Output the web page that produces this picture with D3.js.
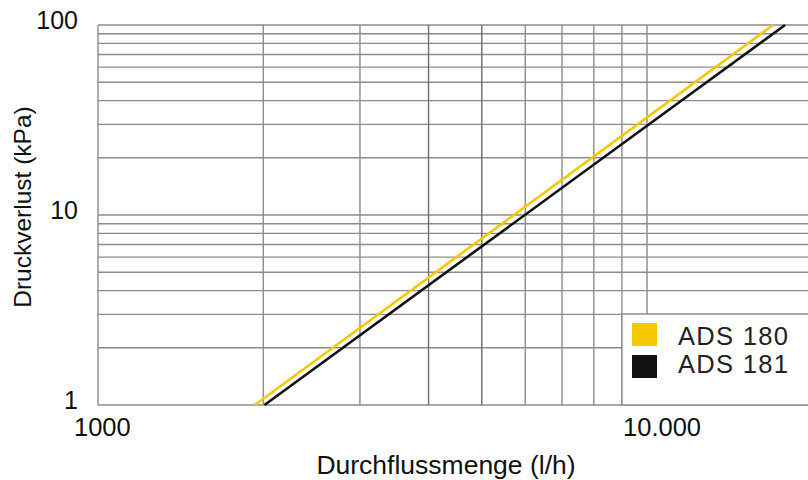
<!DOCTYPE html>
<html>
<head>
<meta charset="utf-8">
<script src="https://cdn.jsdelivr.net/npm/d3@7"></script>
<style>
  body { margin: 0; background: #fff; }
  text { font-family: "Liberation Sans", Arial, sans-serif; fill: #111; }
</style>
</head>
<body>
<div id="chart"></div>
<script>
// grid values (log scales)
const xGrid = [1000, 2000, 3000, 4000, 5000, 6000, 7000, 8000, 9000, 10000];
const yGrid = [1, 2, 3, 4, 5, 6, 7, 8, 9, 10, 20, 30, 40, 50, 60, 70, 80, 90, 100];
const xTickValues = [1000, 10000];
const xTickLabels = ["1000", "10.000"];
const yTickValues = [1, 10, 100];
const yTickLabels = ["1", "10", "100"];

// series: flow (l/h) vs pressure loss (kPa)
const seriesNames = ["ADS 180", "ADS 181"];
const seriesColors = ["#f5c800", "#111111"];
const ads180 = [{ q: 1930, dp: 1 }, { q: 16960, dp: 100 }];
const ads181 = [{ q: 2010, dp: 1 }, { q: 17840, dp: 100 }];

const width = 808;
const height = 480;
const mLeft = 98, mTop = 25, mBottom = 405, mRight = 808;

const x = d3.scaleLog().domain([1000, 19640]).range([mLeft, mRight]);
const y = d3.scaleLog().domain([1, 100]).range([mBottom, mTop]);

const svg = d3.select("#chart").append("svg")
    .attr("width", width)
    .attr("height", height);

// horizontal grid
svg.append("g")
    .selectAll("line")
    .data(yGrid)
    .enter()
    .append("line")
    .attr("x1", mLeft)
    .attr("x2", mRight)
    .attr("y1", d => y(d))
    .attr("y2", d => y(d))
    .attr("stroke", "#8c8c8c")
    .attr("stroke-width", 1.4);

// vertical grid
svg.append("g")
    .selectAll("line")
    .data(xGrid)
    .enter()
    .append("line")
    .attr("x1", d => x(d))
    .attr("x2", d => x(d))
    .attr("y1", mTop)
    .attr("y2", mBottom)
    .attr("stroke", d => (d === 4000 || d === 5000) ? "#6e6e6e" : "#8c8c8c")
    .attr("stroke-width", 1.4);

// tick labels
svg.append("g")
    .selectAll("text")
    .data(yTickValues)
    .enter()
    .append("text")
    .attr("x", 78)
    .attr("y", d => y(d) - 5)
    .attr("dy", "0.35em")
    .attr("text-anchor", "end")
    .style("font-size", "25px")
    .text((d, i) => yTickLabels[i]);

svg.append("g")
    .selectAll("text")
    .data(xTickValues)
    .enter()
    .append("text")
    .attr("x", d => x(d) - 24)
    .attr("y", 436)
    .attr("text-anchor", "start")
    .style("font-size", "25.5px")
    .text((d, i) => xTickLabels[i]);

// axis titles
svg.append("text")
    .attr("x", 446)
    .attr("y", 474)
    .attr("text-anchor", "middle")
    .style("font-size", "26.5px")
    .text("Durchflussmenge (l/h)");

svg.append("text")
    .attr("transform", "translate(31, 207) rotate(-90)")
    .attr("text-anchor", "middle")
    .style("font-size", "24.5px")
    .text("Druckverlust (kPa)");

// lines
const line = d3.line()
    .x(d => x(d.q))
    .y(d => y(d.dp));

[ads180, ads181].forEach((data, i) => {
    svg.append("path")
        .datum(data)
        .attr("d", line)
        .attr("fill", "none")
        .attr("stroke", seriesColors[i])
        .attr("stroke-width", 2.6);
});

// legend
const legend = svg.append("g").attr("transform", "translate(622, 314)");
legend.append("rect")
    .attr("width", 190)
    .attr("height", 91)
    .attr("fill", "#fff")
    .attr("stroke", "#8c8c8c")
    .attr("stroke-width", 1.4);

seriesNames.forEach((name, i) => {
    legend.append("rect")
        .attr("x", 10)
        .attr("y", 9 + i * 32)
        .attr("width", 25)
        .attr("height", 23)
        .attr("fill", seriesColors[i]);
    legend.append("text")
        .attr("x", 56)
        .attr("y", 31 + i * 28)
        .style("font-size", "25.5px")
        .style("letter-spacing", "1.3px")
        .style("fill", "#222")
        .text(name);
});
</script>
</body>
</html>
